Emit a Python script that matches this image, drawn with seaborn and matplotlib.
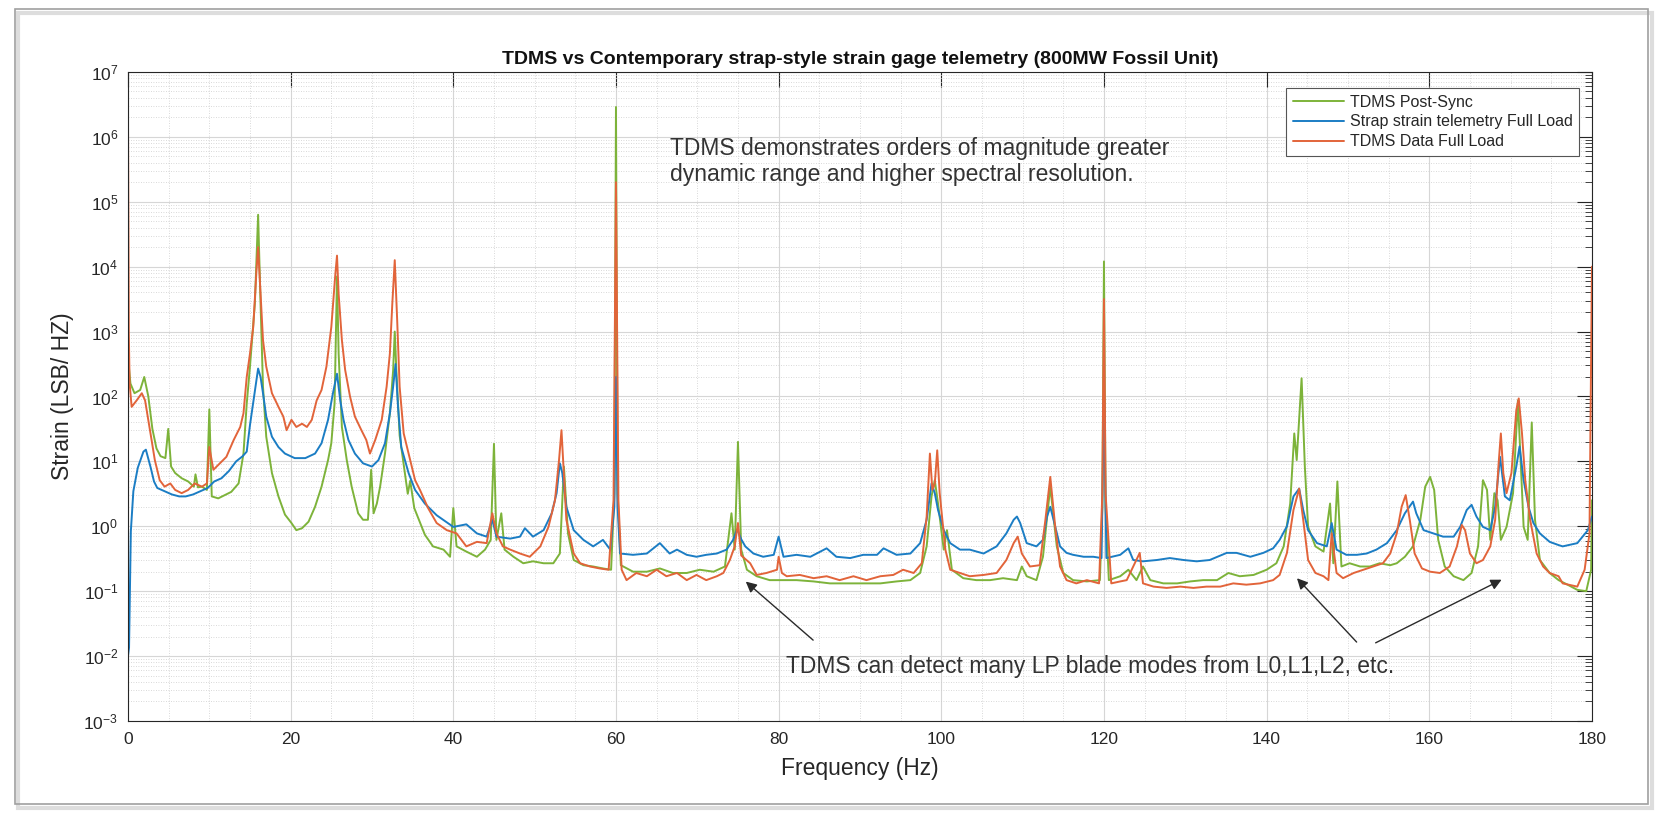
import numpy as np
import matplotlib
matplotlib.use("Agg")
import matplotlib.pyplot as plt
from matplotlib.patches import Rectangle
from matplotlib.ticker import LogLocator, MultipleLocator, NullFormatter
import pandas as pd
import seaborn as sns

# spectra: frequency (Hz) and log10(strain)
green_freq = [0.0, 0.3, 0.8, 1.5, 2.0, 2.5, 3.0, 3.5, 4.0, 4.6,
              4.95, 5.3, 5.8, 6.6, 7.4, 8.1, 8.3, 8.6, 9.1, 9.7,
              10.0, 10.3, 11.1, 11.9, 12.7, 13.6, 14.2, 14.6, 15.0, 15.6,
              16.0, 16.3, 16.6, 17.0, 17.7, 18.5, 19.3, 20.1, 20.7, 21.4,
              22.2, 23.0, 23.8, 24.6, 25.0, 25.4, 25.7, 25.9, 26.3, 26.9,
              27.5, 28.3, 28.9, 29.5, 29.9, 30.2, 30.6, 31.0, 31.6, 32.2,
              32.6, 32.8, 33.0, 33.4, 33.9, 34.4, 34.7, 35.2, 36.5, 37.5,
              38.8, 39.6, 40.0, 40.4, 41.6, 42.9, 43.9, 44.6, 45.0, 45.3,
              45.9, 46.3, 47.4, 48.6, 49.8, 51.1, 52.3, 53.1, 53.6, 54.1,
              54.8, 56.0, 57.2, 58.4, 59.4, 59.8, 60.0, 60.2, 60.6, 62.1,
              63.8, 65.4, 67.0, 68.7, 70.3, 72.0, 73.4, 74.2, 74.6, 75.0,
              75.4, 76.1, 77.3, 78.9, 80.6, 82.2, 84.3, 86.3, 88.4, 90.4,
              92.5, 94.5, 96.2, 97.4, 98.2, 98.8, 99.2, 99.6, 100.3, 100.7,
              101.3, 102.7, 104.3, 106.0, 107.6, 109.3, 109.9, 110.5, 111.7, 112.5,
              113.4, 114.2, 115.0, 116.2, 117.9, 119.5, 119.8, 120.0, 120.2, 120.6,
              122.0, 123.0, 124.0, 124.8, 125.7, 127.3, 129.0, 130.6, 132.2, 133.9,
              135.3, 136.7, 138.4, 140.0, 141.2, 142.1, 142.9, 143.4, 143.7, 144.3,
              144.7, 145.1, 146.0, 147.0, 147.8, 148.2, 148.7, 149.2, 150.2, 151.5,
              152.7, 153.9, 155.2, 156.0, 157.0, 158.0, 158.9, 159.5, 160.1, 160.6,
              161.1, 161.9, 163.0, 164.2, 165.2, 166.0, 166.6, 167.1, 167.5, 168.0,
              168.4, 168.8, 169.5, 170.3, 170.9, 171.6, 172.1, 172.6, 173.0, 173.6,
              174.8, 175.9, 177.0, 178.2, 179.3, 179.9, 180.0]
green_log = [2.6, 2.2, 2.05, 2.1, 2.3, 2.0, 1.5, 1.2, 1.08, 1.05,
             1.5, 0.92, 0.82, 0.74, 0.69, 0.61, 0.8, 0.6, 0.61, 0.56,
             1.8, 0.46, 0.43, 0.48, 0.53, 0.66, 1.12, 1.89, 2.46, 3.43,
             4.8, 3.43, 2.15, 1.38, 0.82, 0.46, 0.18, 0.05, -0.06, -0.03,
             0.07, 0.30, 0.61, 1.02, 1.28, 1.89, 3.85, 2.66, 1.53, 1.02,
             0.61, 0.20, 0.10, 0.10, 0.87, 0.2, 0.35, 0.61, 1.12, 1.74,
             2.4, 3.0, 2.4, 1.4, 0.95, 0.5, 0.7, 0.28, -0.13, -0.31,
             -0.36, -0.47, 0.28, -0.31, -0.39, -0.47, -0.36, -0.21, 1.27, -0.21,
             0.2, -0.36, -0.47, -0.57, -0.54, -0.57, -0.57, -0.42, 0.92, -0.11,
             -0.52, -0.6, -0.62, -0.65, -0.67, 0.5, 6.46, 0.5, -0.6, -0.7,
             -0.7, -0.65, -0.72, -0.72, -0.67, -0.7, -0.62, 0.2, -0.36, 1.3,
             -0.36, -0.67, -0.77, -0.83, -0.83, -0.83, -0.85, -0.88, -0.88, -0.88,
             -0.88, -0.85, -0.83, -0.72, -0.31, 0.46, 0.71, 0.35, -0.36, -0.06,
             -0.67, -0.8, -0.83, -0.83, -0.8, -0.83, -0.62, -0.77, -0.83, -0.47,
             0.61, -0.31, -0.72, -0.83, -0.85, -0.83, 0.3, 4.08, 0.3, -0.83,
             -0.77, -0.67, -0.83, -0.62, -0.83, -0.88, -0.88, -0.85, -0.83, -0.83,
             -0.72, -0.77, -0.75, -0.67, -0.57, -0.31, 0.35, 1.43, 1.02, 2.28,
             0.92, -0.01, -0.31, -0.39, 0.35, -0.57, 0.69, -0.62, -0.57, -0.62,
             -0.62, -0.57, -0.6, -0.57, -0.47, -0.31, 0.1, 0.61, 0.76, 0.56,
             -0.21, -0.62, -0.77, -0.83, -0.72, -0.31, 0.71, 0.56, -0.21, 0.51,
             0.4, -0.21, -0.01, 0.51, 1.94, -0.01, -0.21, 1.6, 0.1, -0.52,
             -0.72, -0.83, -0.9, -0.98, -1.0, -0.67, 0.4]

blue_freq = [0.0, 0.13, 0.35, 0.66, 1.2, 1.9, 2.2, 2.8, 3.2, 3.6,
             4.5, 5.4, 6.3, 7.1, 8.0, 8.9, 9.8, 10.6, 11.5, 12.4,
             13.3, 14.1, 14.6, 15.0, 15.5, 16.0, 16.3, 16.6, 17.0, 17.7,
             18.5, 19.3, 20.5, 21.8, 23.0, 23.8, 24.6, 25.2, 25.7, 26.1,
             26.5, 27.1, 27.9, 28.9, 30.0, 30.8, 31.6, 32.2, 32.6, 32.9,
             33.2, 33.6, 34.5, 35.3, 36.5, 37.95, 40.0, 41.6, 42.9, 44.1,
             44.8, 45.3, 47.0, 48.2, 48.8, 49.8, 51.1, 52.1, 52.7, 53.1,
             53.4, 53.9, 54.8, 56.0, 57.2, 58.4, 59.3, 59.8, 60.0, 60.2,
             60.5, 62.1, 63.8, 65.4, 66.6, 67.5, 68.7, 69.9, 71.1, 72.4,
             73.6, 74.4, 74.9, 75.4, 75.9, 76.9, 78.1, 79.4, 80.0, 80.6,
             82.2, 83.9, 85.9, 87.1, 88.8, 90.4, 92.1, 92.9, 94.5, 96.2,
             97.4, 98.2, 98.8, 99.2, 99.6, 100.3, 101.1, 102.3, 103.5, 105.2,
             106.8, 108.0, 108.9, 109.3, 109.7, 110.5, 111.7, 112.5, 113.0, 113.4,
             114.0, 114.6, 115.4, 116.2, 117.5, 118.7, 119.7, 120.0, 120.3, 122.0,
             123.0, 123.6, 124.8, 126.5, 128.1, 129.8, 131.4, 133.0, 135.1, 136.3,
             138.0, 139.6, 140.8, 141.6, 142.5, 143.3, 144.0, 144.5, 145.1, 146.2,
             147.4, 148.0, 148.6, 149.8, 151.1, 152.3, 153.5, 154.8, 156.0, 157.0,
             158.0, 158.4, 159.3, 160.5, 161.7, 163.0, 163.8, 164.6, 165.2, 165.8,
             166.6, 167.5, 168.1, 168.7, 169.3, 169.9, 170.7, 171.1, 171.6, 172.2,
             172.8, 173.6, 174.8, 175.9, 176.4, 178.2, 179.5, 180.0]
blue_log = [-2.0, -1.87, -0.08, 0.54, 0.9, 1.15, 1.18, 0.9, 0.69, 0.59,
            0.54, 0.49, 0.46, 0.46, 0.49, 0.54, 0.59, 0.69, 0.74, 0.85,
            1.0, 1.08, 1.15, 1.56, 2.0, 2.43, 2.3, 2.05, 1.69, 1.38,
            1.22, 1.12, 1.05, 1.05, 1.12, 1.28, 1.64, 2.05, 2.35, 1.94,
            1.64, 1.33, 1.12, 0.97, 0.92, 1.02, 1.28, 1.74, 2.15, 2.5,
            1.84, 1.22, 0.82, 0.56, 0.35, 0.17, -0.01, 0.03, -0.11, -0.16,
            0.1, -0.16, -0.19, -0.16, -0.03, -0.16, -0.06, 0.2, 0.51, 0.97,
            0.82, 0.3, -0.06, -0.21, -0.31, -0.21, -0.36, 0.3, 2.3, 0.3,
            -0.42, -0.44, -0.42, -0.26, -0.42, -0.36, -0.44, -0.47, -0.44, -0.42,
            -0.36, -0.21, -0.05, -0.2, -0.31, -0.42, -0.47, -0.44, -0.16, -0.47,
            -0.44, -0.47, -0.34, -0.47, -0.49, -0.44, -0.44, -0.34, -0.44, -0.42,
            -0.26, 0.1, 0.66, 0.51, 0.25, -0.06, -0.26, -0.36, -0.36, -0.42,
            -0.31, -0.11, 0.1, 0.15, 0.05, -0.26, -0.31, -0.21, 0.15, 0.3,
            0.0, -0.31, -0.41, -0.44, -0.47, -0.47, -0.49, 2.0, -0.49, -0.44,
            -0.34, -0.52, -0.54, -0.52, -0.49, -0.52, -0.54, -0.52, -0.41, -0.41,
            -0.47, -0.41, -0.34, -0.21, 0.0, 0.46, 0.58, 0.25, -0.06, -0.26,
            -0.31, 0.05, -0.36, -0.44, -0.44, -0.42, -0.36, -0.26, -0.06, 0.2,
            0.38, 0.2, -0.06, -0.11, -0.16, -0.16, -0.01, 0.25, 0.33, 0.15,
            -0.01, -0.06, 0.3, 1.07, 0.46, 0.4, 0.92, 1.23, 0.71, 0.3,
            0.05, -0.11, -0.24, -0.29, -0.31, -0.26, -0.06, 0.15]

orange_freq = [0.0, 0.1, 0.2, 0.45, 1.07, 1.7, 2.1, 2.5, 2.9, 3.3,
               3.9, 4.5, 5.2, 5.8, 6.6, 7.4, 8.2, 9.1, 9.7, 10.0,
               10.5, 11.3, 12.1, 13.0, 13.8, 14.2, 14.6, 15.0, 15.4, 15.8,
               16.0, 16.3, 16.6, 17.0, 17.7, 18.5, 19.1, 19.5, 20.1, 20.7,
               21.4, 22.0, 22.6, 23.2, 23.8, 24.4, 25.0, 25.5, 25.7, 25.9,
               26.3, 26.7, 27.3, 27.9, 28.7, 29.3, 29.75, 30.4, 31.2, 31.8,
               32.2, 32.5, 32.8, 33.1, 33.4, 33.9, 34.5, 35.3, 35.9, 36.9,
               37.95, 39.2, 40.4, 41.6, 42.9, 44.1, 44.8, 45.3, 46.1, 47.0,
               48.2, 49.4, 50.7, 51.7, 52.5, 53.0, 53.3, 53.5, 53.9, 54.8,
               55.6, 56.8, 58.0, 59.1, 59.7, 60.0, 60.3, 60.7, 61.3, 62.5,
               63.8, 65.0, 66.2, 67.5, 68.7, 69.9, 71.1, 72.4, 73.2, 74.0,
               74.6, 75.0, 75.4, 76.5, 77.3, 78.5, 79.8, 80.0, 80.4, 81.0,
               82.6, 84.3, 85.9, 87.5, 89.2, 90.8, 92.5, 94.1, 95.3, 96.6,
               97.6, 98.2, 98.6, 98.9, 99.2, 99.5, 99.8, 100.5, 101.1, 102.3,
               103.5, 105.2, 106.8, 108.0, 108.9, 109.4, 109.9, 110.9, 112.1, 112.8,
               113.4, 114.0, 114.6, 115.4, 116.6, 117.9, 119.4, 119.8, 120.0, 120.2,
               120.9, 122.0, 122.8, 124.4, 124.8, 126.1, 127.7, 129.4, 131.0, 132.6,
               134.3, 135.9, 137.5, 139.2, 140.8, 141.6, 142.5, 143.3, 144.0, 144.5,
               145.1, 146.0, 147.0, 147.6, 148.0, 148.6, 149.4, 150.7, 151.9, 153.1,
               154.3, 155.2, 156.0, 156.6, 157.1, 157.6, 158.2, 159.1, 160.1, 161.3,
               162.5, 163.4, 164.0, 164.4, 165.0, 165.8, 166.6, 167.5, 168.1, 168.5,
               168.8, 169.1, 169.5, 170.1, 170.7, 171.0, 171.4, 171.8, 172.4, 173.2,
               174.0, 174.8, 175.9, 176.4, 178.2, 179.1, 179.7, 180.0]
orange_log = [6.3, 3.0, 2.2, 1.84, 1.94, 2.05, 1.94, 1.64, 1.33, 1.02,
              0.71, 0.61, 0.66, 0.56, 0.51, 0.56, 0.66, 0.61, 0.66, 1.22,
              0.87, 0.97, 1.07, 1.33, 1.53, 1.74, 2.3, 2.66, 3.07, 3.94,
              4.3, 3.58, 2.87, 2.46, 2.05, 1.84, 1.69, 1.48, 1.64, 1.53,
              1.58, 1.53, 1.64, 1.94, 2.1, 2.46, 3.07, 3.89, 4.17, 3.58,
              2.87, 2.41, 2.0, 1.69, 1.48, 1.33, 1.12, 1.33, 1.64, 2.15,
              2.66, 3.43, 4.1, 3.17, 2.15, 1.43, 1.12, 0.71, 0.56, 0.28,
              0.05, -0.06, -0.11, -0.31, -0.24, -0.26, 0.2, -0.11, -0.31, -0.36,
              -0.42, -0.47, -0.31, -0.01, 0.40, 1.02, 1.48, 1.02, 0.1, -0.42,
              -0.57, -0.62, -0.65, -0.67, 0.4, 5.3, 0.4, -0.67, -0.83, -0.72,
              -0.77, -0.67, -0.77, -0.72, -0.83, -0.75, -0.83, -0.77, -0.72, -0.52,
              -0.31, 0.05, -0.45, -0.57, -0.75, -0.72, -0.67, -0.47, -0.72, -0.77,
              -0.75, -0.8, -0.77, -0.83, -0.77, -0.83, -0.77, -0.75, -0.67, -0.72,
              -0.57, 0.15, 1.12, 0.56, 0.66, 1.17, 0.51, -0.36, -0.67, -0.72,
              -0.77, -0.75, -0.72, -0.52, -0.26, -0.16, -0.42, -0.62, -0.6, 0.1,
              0.76, 0.0, -0.62, -0.83, -0.88, -0.83, -0.88, 0.5, 3.5, 0.5,
              -0.88, -0.85, -0.83, -0.41, -0.88, -0.93, -0.95, -0.93, -0.95, -0.93,
              -0.93, -0.88, -0.9, -0.88, -0.83, -0.75, -0.41, 0.25, 0.58, 0.1,
              -0.52, -0.72, -0.77, -0.83, -0.11, -0.72, -0.8, -0.72, -0.67, -0.62,
              -0.57, -0.42, -0.11, 0.3, 0.48, 0.1, -0.42, -0.65, -0.7, -0.72,
              -0.62, -0.31, 0.02, -0.06, -0.42, -0.57, -0.52, -0.31, 0.1, 0.92,
              1.43, 0.82, 0.51, 0.82, 1.79, 1.97, 1.43, 0.71, 0.1, -0.42,
              -0.62, -0.72, -0.77, -0.88, -0.93, -0.67, -0.11, 4.0]

series_names = ["TDMS Post-Sync", "Strap strain telemetry Full Load", "TDMS Data Full Load"]
series_colors = ["#7DB33A", "#1B7DC4", "#E2643A"]
x_ticks = [0, 20, 40, 60, 80, 100, 120, 140, 160, 180]

frames = []
for name, f, lg in zip(series_names,
                       [green_freq, blue_freq, orange_freq],
                       [green_log, blue_log, orange_log]):
    frames.append(pd.DataFrame({"freq": f, "strain": 10.0 ** np.array(lg), "series": name}))
df = pd.concat(frames, ignore_index=True)

sns.set_theme(style="white")
plt.rcParams['font.family'] = ['Liberation Sans', 'DejaVu Sans']
ink = "#262626"

fig = plt.figure(figsize=(16.6, 8.13), dpi=100)
ax = fig.add_axes([0.0771, 0.1132, 0.8819, 0.7983])

sns.lineplot(data=df, x="freq", y="strain", hue="series", hue_order=series_names,
             palette=dict(zip(series_names, series_colors)), estimator=None,
             sort=False, lw=1.4, ax=ax)

ax.set_yscale('log')
ax.set_xlim(0, 180)
ax.set_ylim(1e-3, 1e7)
ax.set_xticks(x_ticks)
ax.xaxis.set_minor_locator(MultipleLocator(5))
ax.yaxis.set_major_locator(LogLocator(base=10, numticks=20))
ax.yaxis.set_minor_locator(LogLocator(base=10, subs=np.arange(2, 10), numticks=20))
ax.yaxis.set_minor_formatter(NullFormatter())

ax.grid(which='major', color='#d6d6d6', lw=0.8, ls='-')
ax.grid(which='minor', color='#cccccc', lw=0.6, ls=(0, (1, 2)))
ax.set_axisbelow(True)

ax.tick_params(which='both', direction='in', top=True, right=True, color=ink,
               labelcolor=ink, labelsize=12.5)
ax.tick_params(which='major', length=10.5, width=0.8)
ax.tick_params(axis='x', which='major', pad=8)
ax.tick_params(axis='y', which='major', pad=7)
ax.tick_params(axis='x', which='minor', length=0)
ax.tick_params(axis='y', which='minor', length=5, width=0.6)
for sp in ax.spines.values():
    sp.set_visible(True)
    sp.set_color(ink)
    sp.set_linewidth(0.8)

ax.set_title("TDMS vs Contemporary strap-style strain gage telemetry (800MW Fossil Unit)",
             fontsize=14, fontweight='bold', color='#111111', pad=6)
ax.set_xlabel("Frequency (Hz)", fontsize=16.5, color=ink, labelpad=7)
ax.set_ylabel("Strain (LSB/ HZ)", fontsize=16.5, color=ink, labelpad=7)

handles, labels = ax.get_legend_handles_labels()
leg = ax.legend(handles, labels, loc='upper right', bbox_to_anchor=(0.991, 0.975),
                borderaxespad=0, fontsize=11.5, frameon=True, fancybox=False,
                framealpha=1, edgecolor='#555555', handlelength=3.2,
                handletextpad=0.35, labelspacing=0.3, borderpad=0.4)
leg.get_frame().set_linewidth(0.8)

note = '#333333'
ax.text(66.7, 1.0e6, "TDMS demonstrates orders of magnitude greater\n"
        "dynamic range and higher spectral resolution.",
        fontsize=16.5, color=note, ha='left', va='top', linespacing=1.15)
ax.text(80.9, 0.0070, "TDMS can detect many LP blade modes from L0,L1,L2, etc.",
        fontsize=16.5, color=note, ha='left', va='center')

arrow = dict(arrowstyle='-|>', color='#2a2a2a', lw=1.0, mutation_scale=16)
ax.annotate("", xy=(75.7, 0.15), xytext=(84.5, 0.0165), arrowprops=arrow)
ax.annotate("", xy=(143.5, 0.17), xytext=(151.3, 0.0153), arrowprops=arrow)
ax.annotate("", xy=(169.2, 0.157), xytext=(153.1, 0.0153), arrowprops=arrow)

# frame and soft shadow around the whole figure, like the screenshot
fig.patches.append(Rectangle((0.011, 0.006), 0.984, 0.978, transform=fig.transFigure,
                             fill=False, ec='#dddddd', lw=3.0, zorder=0))
fig.patches.append(Rectangle((0.009, 0.011), 0.984, 0.978, transform=fig.transFigure,
                             fill=False, ec='#a0a0a0', lw=1.2, zorder=1))

fig.savefig("out.png", dpi=100)
